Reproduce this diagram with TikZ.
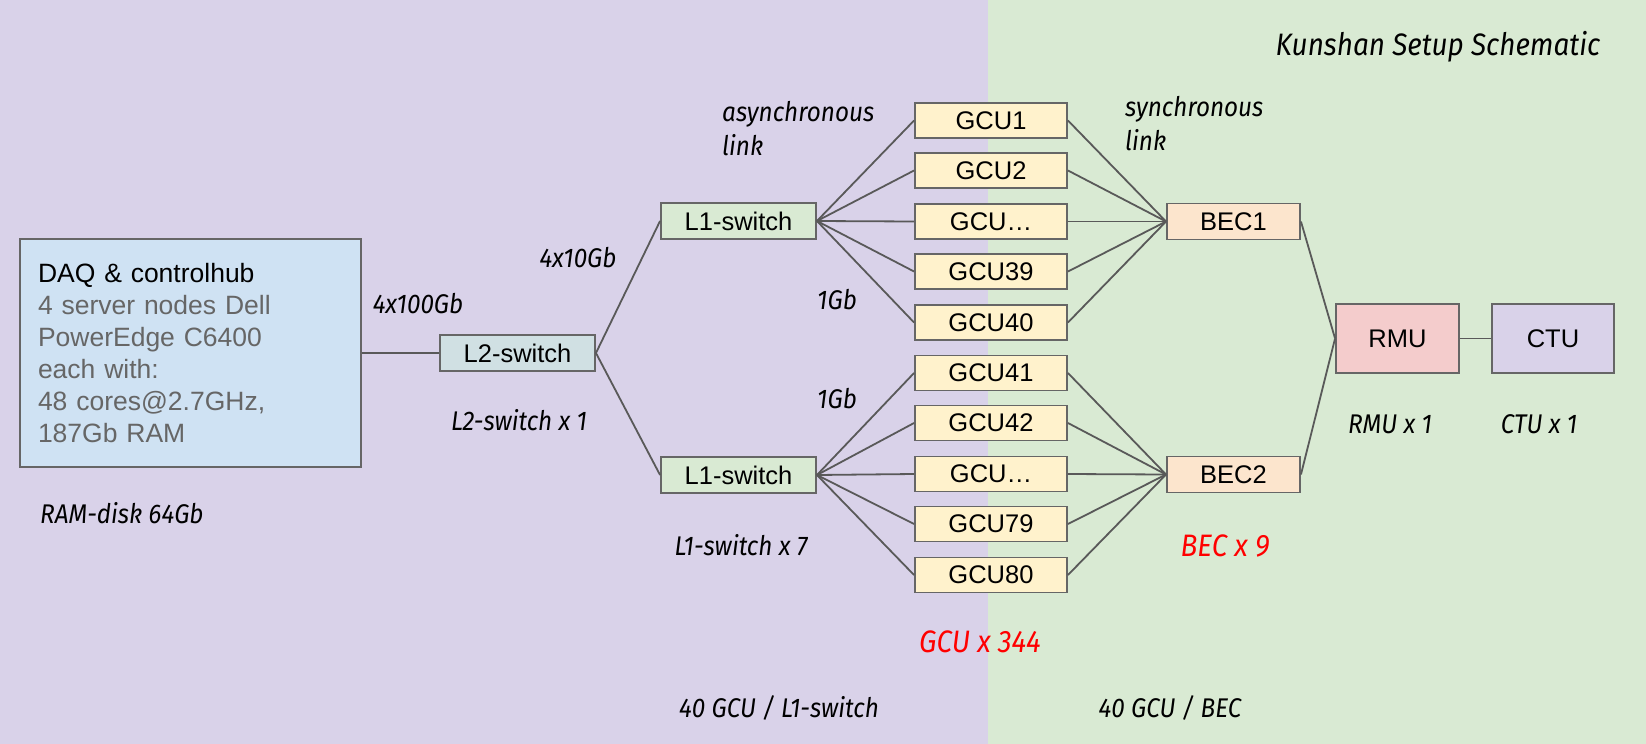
\documentclass[tikz,border=0pt]{standalone}
\usepackage{fontspec}
\setmainfont{Liberation Sans}
\newfontfamily\handfont{Fira Sans}[FakeStretch=0.9]
\definecolor{bgpurple}{HTML}{D9D2E9}
\definecolor{bggreen}{HTML}{D9EAD3}
\definecolor{daqblue}{HTML}{CFE2F3}
\definecolor{l2cyan}{HTML}{D0E0E3}
\definecolor{l1green}{HTML}{D9EAD3}
\definecolor{gcuyellow}{HTML}{FFF2CC}
\definecolor{becorange}{HTML}{FCE5CD}
\definecolor{rmured}{HTML}{F4CCCC}
\definecolor{ctupurple}{HTML}{D9D2E9}
\definecolor{bordergray}{HTML}{666666}
\definecolor{linegray}{HTML}{595959}
\definecolor{textgray}{HTML}{666666}
\definecolor{hotred}{HTML}{FF0000}
\begin{document}
\begin{tikzpicture}[x=1pt,y=-1pt,
  box/.style={draw=bordergray, line width=1.9pt, inner sep=0pt, text=black,
    font=\fontsize{25.5}{30}\selectfont},
  gcu/.style={box, fill=gcuyellow, minimum width=152pt, minimum height=35pt},
  l1box/.style={box, fill=l1green, minimum width=155pt, minimum height=36pt},
  becbox/.style={box, fill=becorange, minimum width=133pt, minimum height=36pt},
  link/.style={draw=linegray, line width=1.8pt},
  hand/.style={font=\handfont\itshape\fontsize{27}{34}\selectfont, inner sep=0pt, text=black},
  bighand/.style={font=\handfont\itshape\fontsize{31}{36}\selectfont, inner sep=0pt},
]
\useasboundingbox (0,0) rectangle (1646,744);
\fill[bgpurple] (0,0) rectangle (988,744);
\fill[bggreen] (988,0) rectangle (1646,744);

% nodes
\node[box, fill=daqblue, minimum width=341pt, minimum height=228pt, text width=305pt,
  align=left, font=\fontsize{26.5}{32}\selectfont] (daq) at (190.5,353)
  {DAQ \& controlhub\\
   \textcolor{textgray}{4 server nodes Dell}\\
   \textcolor{textgray}{PowerEdge C6400}\\
   \textcolor{textgray}{each with:}\\
   \textcolor{textgray}{48 cores@2.7GHz,}\\
   \textcolor{textgray}{187Gb RAM}};
\node[box, fill=l2cyan, minimum width=155pt, minimum height=36pt] (l2) at (517.5,353) {L2-switch};
\node[l1box] (l1a) at (738.5,221) {L1-switch};
\node[l1box] (l1b) at (738.5,475) {L1-switch};

\node[gcu] (g1) at (991,120.5) {GCU1};
\node[gcu] (g2) at (991,170.5) {GCU2};
\node[gcu] (g3) at (991,221.5) {GCU…};
\node[gcu] (g4) at (991,271.5) {GCU39};
\node[gcu] (g5) at (991,322.5) {GCU40};
\node[gcu] (h1) at (991,373) {GCU41};
\node[gcu] (h2) at (991,423) {GCU42};
\node[gcu] (h3) at (991,474) {GCU…};
\node[gcu] (h4) at (991,524) {GCU79};
\node[gcu] (h5) at (991,575) {GCU80};

\node[becbox] (bec1) at (1233.5,221.5) {BEC1};
\node[becbox] (bec2) at (1233.5,474.5) {BEC2};
\node[box, fill=rmured, minimum width=123pt, minimum height=69pt] (rmu) at (1397.5,338.5) {RMU};
\node[box, fill=ctupurple, minimum width=122pt, minimum height=69pt] (ctu) at (1553,338.5) {CTU};

% connectors
\draw[link] (daq.east) -- (l2.west);
\draw[link] (l2.east) -- (l1a.west);
\draw[link] (l2.east) -- (l1b.west);
\foreach \g in {g1,g2,g3,g4,g5} {
  \draw[link] (l1a.east) -- (\g.west);
  \draw[link] (\g.east) -- (bec1.west);
}
\foreach \g in {h1,h2,h3,h4,h5} {
  \draw[link] (l1b.east) -- (\g.west);
  \draw[link] (\g.east) -- (bec2.west);
}
\draw[link] (bec1.east) -- (rmu.west);
\draw[link] (bec2.east) -- (rmu.west);
\draw[link] (rmu.east) -- (ctu.west);

% labels
\node[bighand] (title) at (1438,47) {Kunshan Setup Schematic};
\node[hand, anchor=west, align=left] (async) at (722,129) {asynchronous\\link};
\node[hand, anchor=west, align=left] (sync) at (1125,124) {synchronous\\link};
\node[hand] (l100) at (418,304) {4x100Gb};
\node[hand] (l10) at (578,258) {4x10Gb};
\node[hand] (g1a) at (837,300) {1Gb};
\node[hand] (g1b) at (837,399) {1Gb};
\node[hand] (l2n) at (519,420) {L2-switch x 1};
\node[hand] (l1n) at (741,545) {L1-switch x 7};
\node[hand, anchor=west] (ram) at (40,513) {RAM-disk 64Gb};
\node[bighand, text=hotred] (gcun) at (980,642) {GCU x 344};
\node[bighand, text=hotred] (becn) at (1225,546) {BEC x 9};
\node[hand] (rmun) at (1390,424) {RMU x 1};
\node[hand] (ctun) at (1539,424) {CTU x 1};
\node[hand] (pl1) at (779,708) {40 GCU / L1-switch};
\node[hand] (pbec) at (1170,708) {40 GCU / BEC};
\end{tikzpicture}
\end{document}
